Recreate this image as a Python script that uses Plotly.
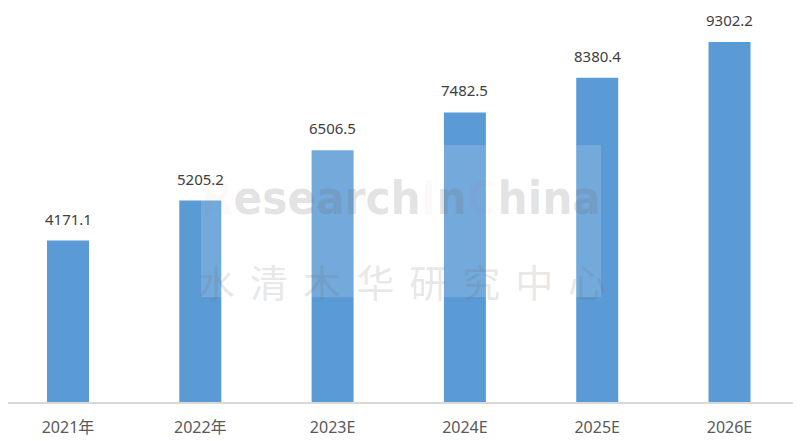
import plotly.graph_objects as go

categories = ["2021年", "2022年", "2023E", "2024E", "2025E", "2026E"]
values = [4171.1, 5205.2, 6506.5, 7482.5, 8380.4, 9302.2]
value_labels = ["4171.1", "5205.2", "6506.5", "7482.5", "8380.4", "9302.2"]

# page body has an 8px margin; layout is compensated for it
W, H = 801, 441
PT, PB = 7, 394          # plot top / bottom in figure px
step = 132.3             # px per category
first = 60.0             # px centre of first category
x0 = -first / step
x1 = x0 + W / step

def px(fx):
    return fx / W

def py(fy):
    return (PB - fy) / (PB - PT)

fig = go.Figure()
fig.add_trace(go.Bar(
    x=categories, y=values,
    marker=dict(color="#5B9BD5", line=dict(width=0)),
    width=42 / step,
    hoverinfo="x+y",
))

for c, v, t in zip(categories, values, value_labels):
    fig.add_annotation(x=c, y=v, text=t, showarrow=False, yanchor="bottom", yshift=10,
                       font=dict(family="Noto Sans, Liberation Sans, sans-serif", size=15, color="#404040"))

# watermark
fig.add_shape(type="rect", xref="paper", yref="paper",
              x0=px(193), x1=px(593), y0=py(289), y1=py(137),
              fillcolor="rgba(255,255,255,0.15)", line=dict(width=0), layer="above")
pink = "rgba(230,70,70,0.16)"
wm = ("<span style='color:%s'>R</span>esearch<span style='color:%s'>I</span>n"
      "<span style='color:%s'>C</span>hina") % (pink, pink, pink)
fig.add_annotation(xref="paper", yref="paper", x=px(393), y=py(190),
                   text=wm, showarrow=False, xanchor="center", yanchor="middle",
                   font=dict(family="DejaVu Sans Condensed, DejaVu Sans",
                             size=47, color="rgba(110,110,110,0.2)", weight="bold"))
fig.add_annotation(xref="paper", yref="paper", x=px(393), y=py(272),
                   text="\u2004\u200a".join("水清木华研究中心"), showarrow=False, xanchor="center", yanchor="middle",
                   font=dict(family="Noto Sans CJK SC", size=38, color="rgba(110,110,110,0.18)"))

fig.update_layout(
    width=W, height=H,
    margin=dict(l=0, r=0, t=PT, b=H - PB, autoexpand=False),
    paper_bgcolor="white", plot_bgcolor="white",
    showlegend=False,
    xaxis=dict(showline=True, linecolor="#D9D9D9", linewidth=2, ticks="",
               range=[x0, x1], ticklabelstandoff=10, automargin=False,
               tickfont=dict(family="Noto Sans, Noto Sans CJK SC, sans-serif", size=16, color="#595959"),
               showgrid=False, zeroline=False),
    yaxis=dict(range=[0, 10000], visible=False, showgrid=False, zeroline=False),
)

fig.write_html("out.html")
